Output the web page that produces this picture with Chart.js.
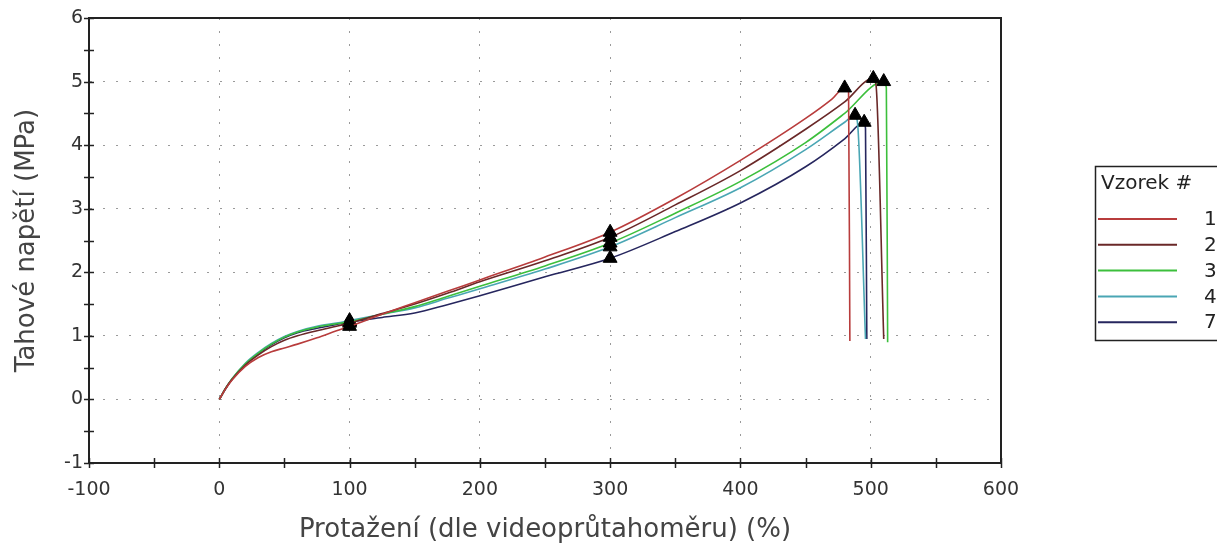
<!DOCTYPE html>
<html>
<head>
<meta charset="utf-8">
<script src="https://cdn.jsdelivr.net/npm/chart.js@4.4.1/dist/chart.umd.min.js"></script>
<style>
  html, body { margin: 0; padding: 0; background: #ffffff; }
  canvas { display: block; }
</style>
</head>
<body>
<canvas id="tahovaZkouska" width="1217" height="549"></canvas>
<script>
// vzorky
const samples = ['1', '2', '3', '4', '7'];
const sampleColors = ['#b83c3c', '#6a2828', '#3cbf3c', '#4aa6b4', '#26265e'];

// protazeni (%) / napeti (MPa) pro kazdy vzorek
const strain1 = [0, 5, 10, 20, 30, 40, 50, 60, 75, 90, 100, 125, 150, 175, 200, 250, 300, 350, 400, 450, 470, 480, 483, 484];
const stress1 = [0, 0.17, 0.31, 0.52, 0.66, 0.75, 0.81, 0.87, 0.97, 1.08, 1.15, 1.34, 1.52, 1.70, 1.88, 2.24, 2.63, 3.16, 3.76, 4.42, 4.72, 4.90, 4.84, 0.92];

const strain2 = [0, 5, 10, 20, 30, 40, 50, 60, 75, 90, 100, 125, 150, 175, 200, 250, 300, 350, 400, 450, 480, 502, 504, 510];
const stress2 = [0, 0.18, 0.32, 0.54, 0.70, 0.83, 0.93, 1.00, 1.08, 1.15, 1.20, 1.35, 1.50, 1.67, 1.85, 2.18, 2.55, 3.06, 3.60, 4.25, 4.68, 5.05, 4.96, 0.95];

const strain3 = [0, 5, 10, 20, 30, 40, 50, 60, 75, 90, 100, 125, 150, 175, 200, 250, 300, 350, 400, 450, 480, 510, 512, 513];
const stress3 = [0, 0.18, 0.33, 0.56, 0.73, 0.87, 0.98, 1.06, 1.14, 1.19, 1.22, 1.34, 1.46, 1.62, 1.78, 2.10, 2.46, 2.93, 3.43, 4.04, 4.50, 5.00, 4.90, 0.90];

const strain4 = [0, 5, 10, 20, 30, 40, 50, 60, 75, 90, 100, 125, 150, 175, 200, 250, 300, 350, 400, 450, 480, 488, 490, 496];
const stress4 = [0, 0.18, 0.33, 0.57, 0.74, 0.88, 0.99, 1.07, 1.15, 1.20, 1.24, 1.34, 1.44, 1.59, 1.74, 2.05, 2.40, 2.86, 3.33, 3.93, 4.36, 4.47, 4.32, 0.95];

const strain7 = [0, 5, 10, 20, 30, 40, 50, 60, 75, 90, 100, 125, 150, 175, 200, 250, 300, 350, 400, 450, 480, 495, 496, 497];
const stress7 = [0, 0.17, 0.32, 0.55, 0.72, 0.86, 0.97, 1.05, 1.12, 1.18, 1.22, 1.29, 1.36, 1.49, 1.63, 1.93, 2.22, 2.64, 3.09, 3.66, 4.10, 4.36, 4.26, 0.95];

// body s trojuhelnikem: 100 %, 300 % a maximum
const markerStrain = [100, 300];
const peakStrain = [480, 502, 510, 488, 495];

// popisky os
const xTickLabels = [-100, 0, 100, 200, 300, 400, 500, 600];
const yTickLabels = [-1, 0, 1, 2, 3, 4, 5, 6];

const strains = [strain1, strain2, strain3, strain4, strain7];
const stresses = [stress1, stress2, stress3, stress4, stress7];

const FONT = "'DejaVu Sans', Verdana, sans-serif";

const datasets = samples.map(function(s, k) {
    return {
        label: s,
        data: strains[k].map(function(x, i) { return { x: x, y: stresses[k][i] }; }),
        borderColor: sampleColors[k],
        borderWidth: 1.6,
        cubicInterpolationMode: 'monotone',
        pointStyle: 'triangle',
        pointBackgroundColor: '#000000',
        pointBorderColor: '#000000',
        pointBorderWidth: 1,
        pointRadius: function(ctx) {
            const x = ctx.raw ? ctx.raw.x : null;
            if (markerStrain.indexOf(x) >= 0 || x === peakStrain[k]) return 8;
            return 0;
        }
    };
});

// kriz. znacky na osach + ramecek
const axisTicks = {
    id: 'axisTicks',
    afterDraw: function(chart) {
        const c = chart.ctx;
        const a = chart.chartArea;
        const xs = chart.scales.x, ys = chart.scales.y;
        c.save();
        c.strokeStyle = '#222';
        c.lineWidth = 1.5;
        xs.ticks.forEach(function(t) {
            const p = Math.round(xs.getPixelForValue(t.value)) + 0.5;
            c.beginPath(); c.moveTo(p, a.bottom - 5); c.lineTo(p, a.bottom + 5); c.stroke();
        });
        ys.ticks.forEach(function(t) {
            const p = Math.round(ys.getPixelForValue(t.value)) + 0.5;
            c.beginPath(); c.moveTo(a.left - 5, p); c.lineTo(a.left + 5, p); c.stroke();
        });
        c.lineWidth = 2;
        c.beginPath();
        c.moveTo(a.left, a.top); c.lineTo(a.right, a.top); c.lineTo(a.right, a.bottom);
        c.stroke();
        c.restore();
    }
};

// legenda v ramecku vpravo
const boxLegend = {
    id: 'boxLegend',
    afterDraw: function(chart) {
        const c = chart.ctx;
        c.save();
        c.strokeStyle = '#222';
        c.lineWidth = 1.5;
        c.strokeRect(1095.5, 166.5, 140, 174);
        c.fillStyle = '#222';
        c.font = '20px ' + FONT;
        c.textBaseline = 'middle';
        c.textAlign = 'left';
        c.fillText('Vzorek #', 1101, 184);
        chart.data.datasets.forEach(function(ds, i) {
            const y = 219 + i * 25.8;
            c.strokeStyle = ds.borderColor;
            c.lineWidth = 2;
            c.beginPath(); c.moveTo(1098, y); c.lineTo(1177, y); c.stroke();
            c.fillStyle = '#222';
            c.fillText(ds.label, 1204, y + 1);
        });
        c.restore();
    }
};

function gridColor(ctx, list) {
    const v = ctx.tick ? ctx.tick.value : null;
    if (v === list[0] || v === list[list.length - 1]) return 'transparent';
    return list.indexOf(v) >= 0 ? '#9a9a9a' : 'transparent';
}

new Chart(document.getElementById('tahovaZkouska'), {
    type: 'line',
    data: { datasets: datasets },
    plugins: [axisTicks, boxLegend],
    options: {
        responsive: false,
        animation: false,
        layout: { padding: { left: 0, top: 18, right: 216, bottom: 0 } },
        plugins: {
            legend: { display: false },
            tooltip: { enabled: false }
        },
        scales: {
            x: {
                type: 'linear',
                min: -100,
                max: 600,
                afterFit: function(scale) { scale.height = 86; },
                ticks: {
                    stepSize: 50,
                    padding: 16,
                    color: '#333',
                    font: { family: FONT, size: 19 },
                    maxRotation: 0,
                    autoSkip: false,
                    callback: function(v) { return xTickLabels.indexOf(v) >= 0 ? String(v) : ''; }
                },
                grid: {
                    drawTicks: false,
                    lineWidth: 1,
                    color: function(ctx) { return gridColor(ctx, xTickLabels); }
                },
                border: { display: true, color: '#222', width: 2, dash: [2, 11] },
                title: {
                    display: true,
                    text: 'Protažení (dle videoprůtahoměru) (%)',
                    color: '#444',
                    font: { family: FONT, size: 26, lineHeight: 1.2 },
                    padding: { top: 0, bottom: 3 }
                }
            },
            y: {
                type: 'linear',
                min: -1,
                max: 6,
                afterFit: function(scale) { scale.width = 89; },
                ticks: {
                    stepSize: 0.5,
                    padding: 6,
                    color: '#333',
                    font: { family: FONT, size: 19 },
                    autoSkip: false,
                    callback: function(v) { return yTickLabels.indexOf(v) >= 0 ? String(v) : ''; }
                },
                grid: {
                    drawTicks: false,
                    lineWidth: 1,
                    color: function(ctx) { return gridColor(ctx, yTickLabels); }
                },
                border: { display: true, color: '#222', width: 2, dash: [2, 11] },
                title: {
                    display: true,
                    text: 'Tahové napětí (MPa)',
                    color: '#444',
                    font: { family: FONT, size: 26, lineHeight: 1.2 },
                    padding: { top: 12, bottom: 0 }
                }
            }
        }
    }
});
</script>
</body>
</html>
